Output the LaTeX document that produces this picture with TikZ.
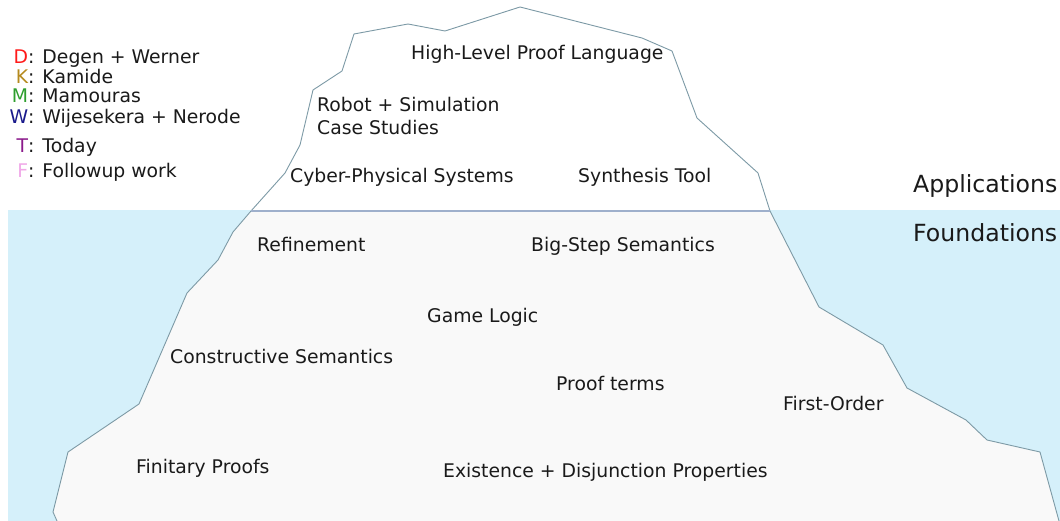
\documentclass[tikz,border=0pt]{standalone}
\usepackage{fontspec}
\setmainfont{DejaVu Sans}
\definecolor{water}{HTML}{D5F0FA}
\definecolor{ice}{HTML}{F9F9F9}
\definecolor{edge}{HTML}{7D9AA6}
\definecolor{wline}{HTML}{9FB0CC}
\definecolor{txt}{HTML}{1A1A1A}
\definecolor{cD}{HTML}{FF1A1A}
\definecolor{cK}{HTML}{B58A1E}
\definecolor{cM}{HTML}{2E9E2E}
\definecolor{cW}{HTML}{1A1A8C}
\definecolor{cT}{HTML}{8B1A8B}
\definecolor{cF}{HTML}{F0A8E8}
\tikzset{
  lbl/.style={inner sep=0pt, anchor=base west, text=txt, font=\fontsize{18.8}{22}\selectfont},
  head/.style={inner sep=0pt, anchor=base west, text=txt, font=\fontsize{23.6}{27}\selectfont},
  leg/.style={inner sep=0pt, anchor=base west, text=txt, font=\fontsize{18.8}{22}\selectfont},
  outline/.style={draw=edge, line width=0.9pt, line join=round}
}
\newcommand{\legkey}[2]{\makebox[16pt][r]{\textcolor{#1}{#2}}}
\begin{document}
\begin{tikzpicture}[x=1pt,y=-1pt]
\useasboundingbox (0,0) rectangle (1060,521);
\fill[white] (0,0) rectangle (1060,521);
% water
\fill[water] (8,210) rectangle (1060,521);
% underwater ice
\fill[ice] (251,211) -- (233,232) -- (218,260) -- (187,293) -- (139,404) -- (68,452) -- (53,512) -- (57,521)
  -- (1059,521) -- (1040,452) -- (987,440) -- (966,420) -- (907,388) -- (883,345) -- (819,307) -- (770,211) -- cycle;
% above water ice
\fill[white] (251,211) -- (285,173) -- (300,145) -- (313,90) -- (342,71) -- (354,34) -- (408,24) -- (445,31)
  -- (520,7) -- (642,38) -- (672,51) -- (697,118) -- (758,173) -- (770,211) -- cycle;
% outlines
\draw[outline] (57,521) -- (53,512) -- (68,452) -- (139,404) -- (187,293) -- (218,260) -- (233,232) -- (251,211)
  -- (285,173) -- (300,145) -- (313,90) -- (342,71) -- (354,34) -- (408,24) -- (445,31)
  -- (520,7) -- (642,38) -- (672,51) -- (697,118) -- (758,173) -- (770,211)
  -- (819,307) -- (883,345) -- (907,388) -- (966,420) -- (987,440) -- (1040,452) -- (1059,521);
% waterline
\draw[wline, line width=2pt] (251,211) -- (770,211);

% labels above water
\node[lbl] (hlpl) at (411,60) {High-Level Proof Language};
\node[lbl] (robot) at (317,112) {Robot + Simulation};
\node[lbl] (case) at (317,135) {Case Studies};
\node[lbl] (cps) at (290,183) {Cyber-Physical Systems};
\node[lbl] (synth) at (578,183) {Synthesis Tool};
\node[head] (apps) at (913,193) {Applications};
\node[head] (found) at (913,242) {Foundations};
% labels below water
\node[lbl] (refine) at (257,252) {Refinement};
\node[lbl] (bigstep) at (531,252) {Big-Step Semantics};
\node[lbl] (game) at (427,323) {Game Logic};
\node[lbl] (constr) at (170,363) {Constructive Semantics};
\node[lbl] (pterms) at (556,390) {Proof terms};
\node[lbl] (fo) at (783,410) {First-Order};
\node[lbl] (finit) at (136,473) {Finitary Proofs};
\node[lbl] (exist) at (443,477) {Existence + Disjunction Properties};

% legend
\node[leg] (legD) at (12,64) {\legkey{cD}{D}: Degen + Werner};
\node[leg] (legK) at (12,84) {\legkey{cK}{K}: Kamide};
\node[leg] (legM) at (12,103) {\legkey{cM}{M}: Mamouras};
\node[leg] (legW) at (12,124) {\legkey{cW}{W}: Wijesekera + Nerode};
\node[leg] (legT) at (12,153) {\legkey{cT}{T}: Today};
\node[leg] (legF) at (12,178) {\legkey{cF}{F}: Followup work};
\end{tikzpicture}
\end{document}
